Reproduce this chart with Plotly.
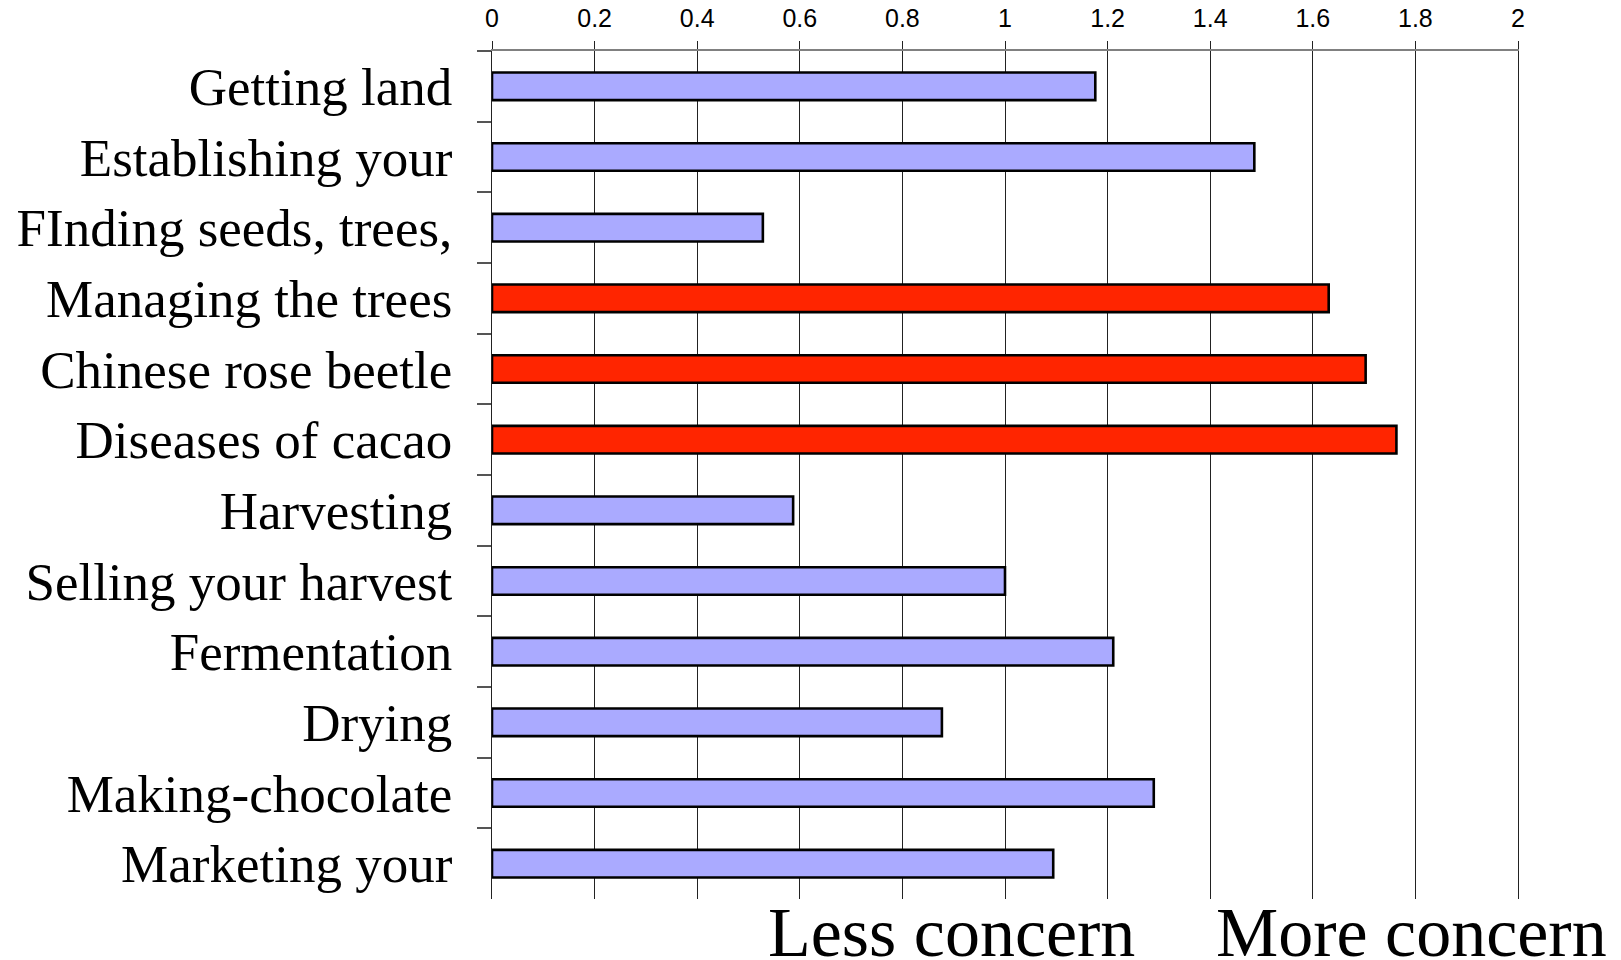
import plotly.graph_objects as go

categories = [
    "Getting land",
    "Establishing your",
    "FInding seeds, trees,",
    "Managing the trees",
    "Chinese rose beetle",
    "Diseases of cacao",
    "Harvesting",
    "Selling your harvest",
    "Fermentation",
    "Drying",
    "Making-chocolate",
    "Marketing your",
]
values = [1.176, 1.486, 0.528, 1.631, 1.703, 1.763, 0.587, 1.0, 1.211, 0.877, 1.29, 1.094]
highlighted = ["Managing the trees", "Chinese rose beetle", "Diseases of cacao"]
x_ticks = [0, 0.2, 0.4, 0.6, 0.8, 1, 1.2, 1.4, 1.6, 1.8, 2]
x_tick_labels = ["0", "0.2", "0.4", "0.6", "0.8", "1", "1.2", "1.4", "1.6", "1.8", "2"]
bottom_labels = ["Less concern", "More concern"]

BLUE = "#AAAAFF"
RED = "#FF2500"
colors = [RED if c in highlighted else BLUE for c in categories]

fig = go.Figure(
    go.Bar(
        x=values,
        y=categories,
        orientation="h",
        marker=dict(color=colors, line=dict(color="black", width=2.6)),
        width=0.39,
        hoverinfo="x+y",
    )
)

W, H = 1621, 960
ml, mr, mt, mb = 492, 103, 51, 61

fig.update_layout(
    width=W,
    height=H,
    margin=dict(l=ml, r=mr, t=mt, b=mb, autoexpand=False),
    paper_bgcolor="white",
    plot_bgcolor="white",
    showlegend=False,
    xaxis=dict(
        side="top",
        range=[0, 2],
        tickvals=x_ticks,
        ticktext=x_tick_labels,
        showgrid=True,
        gridcolor="#222222",
        gridwidth=1,
        zeroline=False,
        showline=True,
        linecolor="#808080",
        linewidth=1.5,
        ticks="outside",
        ticklen=8,
        tickcolor="#222222",
        tickwidth=1,
        ticklabelstandoff=4,
        tickfont=dict(family="Liberation Sans, Arial, sans-serif", size=25, color="black"),
        fixedrange=True,
    ),
    yaxis=dict(
        type="category",
        categoryorder="array",
        categoryarray=categories,
        autorange="reversed",
        showgrid=False,
        zeroline=False,
        showline=True,
        mirror=True,
        linecolor="#222222",
        linewidth=1.2,
        ticks="outside",
        tickson="boundaries",
        ticklen=14,
        tickcolor="#555555",
        tickwidth=1.5,
        ticklabelstandoff=28,
        tickfont=dict(family="Liberation Serif, Times New Roman, serif", size=53, color="black"),
        fixedrange=True,
    ),
)

label_centers = [951, 1411]
for txt, xc in zip(bottom_labels, label_centers):
    fig.add_annotation(
        text=txt,
        x=(xc - ml) / (W - ml - mr),
        y=-(933 - (H - mb)) / (H - mt - mb),
        xref="paper",
        yref="paper",
        xanchor="center",
        yanchor="middle",
        showarrow=False,
        font=dict(family="Liberation Serif, Times New Roman, serif", size=70, color="black"),
    )

fig.write_html(
    "out.html",
    config={"displayModeBar": False},
    post_script="document.body.style.margin='0';document.body.style.overflow='hidden';",
)
